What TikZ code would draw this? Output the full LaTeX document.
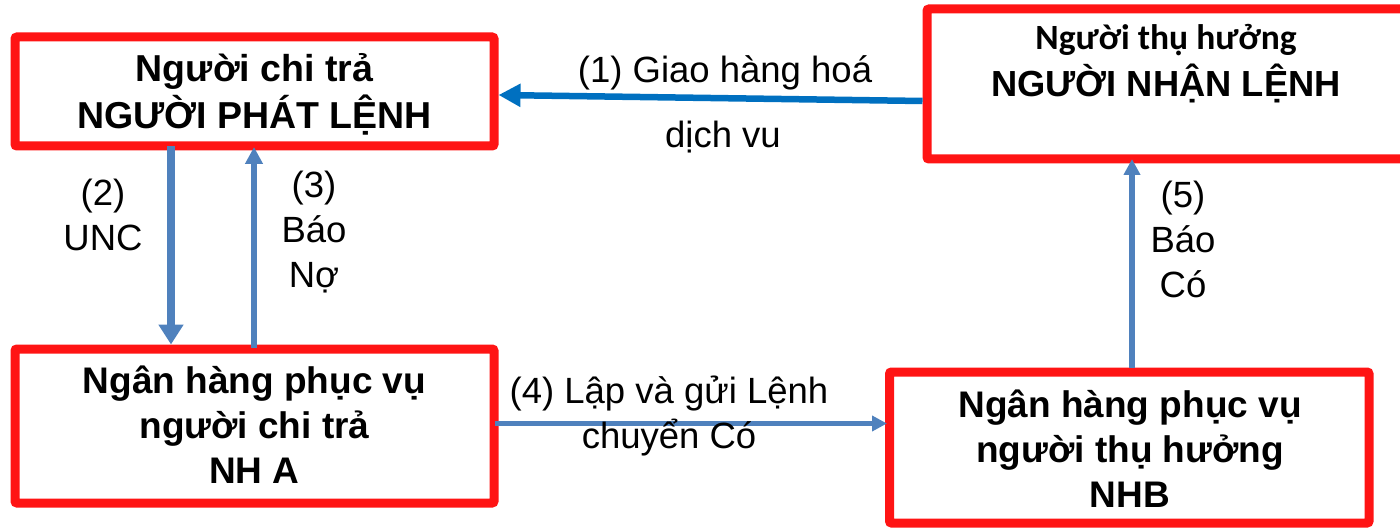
\documentclass[tikz,border=0pt]{standalone}
\usepackage{fontspec}
\setmainfont{Liberation Sans}
\newfontfamily\calibrifont{Carlito}
\usetikzlibrary{arrows.meta}
\definecolor{boxred}{HTML}{FF1414}
\definecolor{flowblue}{HTML}{4F81BD}
\definecolor{deliverblue}{HTML}{0070C0}
% centred lines whose baseline is the first line's baseline
\newcommand\stackrows[1]{\begin{tabular}[t]{@{}c@{}}#1\end{tabular}}

\begin{document}
\begin{tikzpicture}[x=1pt,y=-1pt,
  panel/.style={draw=boxred, line width=9pt, rounded corners=2pt, inner sep=0pt},
  boxtext/.style={anchor=base, inner sep=0pt, font=\bfseries\fontsize{37}{45}\selectfont},
  lbl/.style={anchor=base, inner sep=0pt, font=\fontsize{36.5}{45}\selectfont},
  flow/.style={draw=flowblue, line width=#1},
  deliver/.style={draw=deliverblue, line width=6.5pt, -{Triangle[length=22pt,width=22pt]}}
]
\useasboundingbox (0,0) rectangle (1400,529);

% parties and banks
\node[panel, minimum width=479pt, minimum height=109pt] (payer) at (254.5,91.5) {};
\node[panel, minimum width=483pt, minimum height=150pt] (recipient) at (1168.5,84) {};
\node[panel, minimum width=479pt, minimum height=154pt] (bankA) at (254.5,426) {};
\node[panel, minimum width=479.5pt, minimum height=151pt] (bankB) at (1129.25,447.5) {};

% box texts
\node[boxtext, font=\bfseries\fontsize{37.5}{44}\selectfont] (payertxt) at (254.5,82)
  {\stackrows{Người chi trả\\NGƯỜI PHÁT LỆNH}};
\node[anchor=base, inner sep=0pt, font=\calibrifont\bfseries\fontsize{35.5}{40}\selectfont] (recipienttop) at (1166,50) {Người thụ hưởng};
\node[boxtext, font=\bfseries\fontsize{36.3}{45}\selectfont] (recipienttxt) at (1166,97) {NGƯỜI NHẬN LỆNH};
\node[boxtext] (bankAtxt) at (254.5,393)
  {\stackrows{Ngân hàng phục vụ\\người chi trả\\NH A}};
\node[boxtext] (bankBtxt) at (1130,417)
  {\stackrows{Ngân hàng phục vụ\\người thụ hưởng\\NHB}};

% (1) delivery of goods and services
\draw[deliver] (recipient.west |- 0,101) -- (payer.east |- 0,95);
\node[lbl] (l1a) at (725,83) {(1) Giao hàng hoá};
\node[lbl] (l1b) at (723,148) {dịch vu};

% (2) payment order
\draw[flow=8pt, -{Triangle[length=20pt,width=24pt]}, shorten <=-4pt]
  (payer.south -| 171,0) -- (bankA.north -| 171,0);
\node[lbl] (l2) at (103,206) {\stackrows{(2)\\UNC}};

% (3) debit advice
\draw[flow=6pt, -{Triangle[length=17pt,width=17pt]}, shorten <=-3.5pt, shorten >=-3.5pt]
  (bankA.north -| 254,0) -- (payer.south -| 254,0);
\node[lbl] (l3) at (314,198) {\stackrows{(3)\\Báo\\Nợ}};

% (4) credit transfer order
\draw[flow=5pt, -{Triangle[length=15pt,width=15pt]}, shorten <=-3.5pt, shorten >=-2pt]
  (bankA.east |- 0,423.5) -- (bankB.west |- 0,423.5);
\node[lbl] (l4) at (669,403) {\stackrows{(4) Lập và gửi Lệnh\\chuyển Có}};

% (5) credit advice
\draw[flow=5.5pt, -{Triangle[length=16pt,width=16pt]}, shorten >=-4.5pt]
  (bankB.north -| 1132,0) -- (recipient.south -| 1132,0);
\node[lbl] (l5) at (1183,208) {\stackrows{(5)\\Báo\\Có}};
\end{tikzpicture}
\end{document}
